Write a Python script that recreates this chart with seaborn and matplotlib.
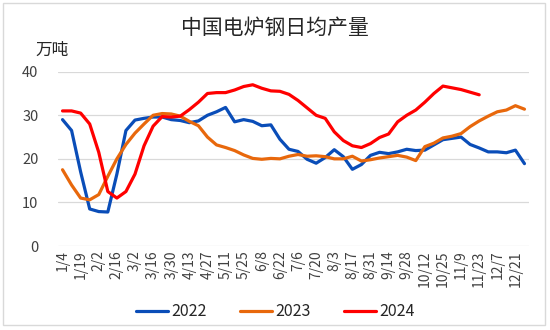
import matplotlib
matplotlib.use("Agg")
import matplotlib.pyplot as plt
from matplotlib.patches import Rectangle
import pandas as pd
import seaborn as sns

# Week labels (one per weekly observation)
weeks = ["1/4", "1/11", "1/19", "1/26", "2/2", "2/9", "2/16", "2/23", "3/2", "3/9",
         "3/16", "3/23", "3/30", "4/6", "4/13", "4/20", "4/27", "5/4", "5/11", "5/18",
         "5/25", "6/1", "6/8", "6/15", "6/22", "6/29", "7/6", "7/13", "7/20", "7/27",
         "8/3", "8/10", "8/17", "8/24", "8/31", "9/7", "9/14", "9/21", "9/28", "10/5",
         "10/12", "10/19", "10/25", "11/2", "11/9", "11/16", "11/23", "11/30", "12/7", "12/14",
         "12/21", "12/28"]

# Daily average EAF steel output, 10k tonnes
y2022 = [29.0, 26.5, 17.0, 8.5, 7.9, 7.8, 16.5, 26.5, 28.9, 29.3,
         29.6, 29.6, 29.0, 28.8, 28.3, 28.7, 30.0, 30.8, 31.8, 28.5,
         29.0, 28.6, 27.6, 27.8, 24.5, 22.2, 21.7, 19.9, 19.0, 20.3,
         22.1, 20.5, 17.6, 18.7, 20.8, 21.5, 21.2, 21.6, 22.2, 21.9,
         22.0, 23.2, 24.4, 24.7, 25.0, 23.3, 22.5, 21.6, 21.6, 21.4,
         22.0, 18.9]
y2023 = [17.5, 14.0, 11.0, 10.6, 11.8, 16.0, 20.0, 23.3, 25.9, 28.0,
         30.0, 30.4, 30.3, 29.8, 28.6, 27.6, 25.0, 23.2, 22.6, 21.9,
         20.9, 20.1, 19.9, 20.1, 20.0, 20.6, 21.0, 20.6, 20.7, 20.5,
         20.0, 20.0, 20.6, 19.5, 19.8, 20.2, 20.5, 20.8, 20.4, 19.6,
         22.8, 23.6, 24.8, 25.2, 25.8, 27.4, 28.7, 29.8, 30.8, 31.2,
         32.2, 31.4]
y2024 = [31.0, 31.0, 30.5, 28.0, 21.5, 12.5, 11.0, 12.5, 16.5, 23.0,
         27.5, 29.7, 29.6, 29.8, 31.3, 33.0, 35.0, 35.2, 35.2, 35.8,
         36.6, 37.0, 36.2, 35.6, 35.5, 34.8, 33.4, 31.7, 30.0, 29.3,
         26.2, 24.2, 23.0, 22.6, 23.5, 24.9, 25.7, 28.5, 30.0, 31.2,
         33.0, 35.0, 36.7, 36.3, 35.9, 35.3, 34.7]

years = ["2022", "2023", "2024"]
colors = ["#0A4DB8", "#E8680C", "#FF0000"]
series = [y2022, y2023, y2024]

frames = []
for yr, vals in zip(years, series):
    frames.append(pd.DataFrame({"周": range(len(vals)), "产量": vals, "年份": yr}))
df = pd.concat(frames, ignore_index=True)

sns.set_theme(style="white")
plt.rcParams["font.family"] = ["Noto Sans CJK SC", "DejaVu Sans"]

fig = plt.figure(figsize=(5.5, 3.3), dpi=100)
ax = fig.add_axes([58 / 550, 1 - 246 / 330, 471 / 550, 174.3 / 330])

sns.lineplot(data=df, x="周", y="产量", hue="年份", hue_order=years,
             palette=dict(zip(years, colors)), linewidth=2.3, ax=ax,
             sort=False, legend=False)
for line in ax.get_lines():
    line.set_solid_joinstyle("round")
    line.set_solid_capstyle("round")

ax.set_xlim(-0.5, len(weeks) - 0.5)
ax.set_ylim(0, 40)
ax.set_yticks([0, 10, 20, 30, 40])
ax.set_xticks(range(0, len(weeks), 2))
ax.set_xticklabels(weeks[::2], rotation=90, fontsize=10, color="#404040")
ax.tick_params(axis="y", labelsize=10.5, labelcolor="#404040", length=0, pad=14)
ax.tick_params(axis="x", length=0, pad=3)
ax.set_xlabel("")
ax.set_ylabel("")
ax.grid(axis="y", color="#d9d9d9", linewidth=0.9)
ax.grid(axis="x", visible=False)
for s in ax.spines.values():
    s.set_visible(False)

# Legend below the plot
handles = [plt.Line2D([], [], color=c, linewidth=2.3) for c in colors]
fig.legend(handles, years, loc="center", bbox_to_anchor=(0.5, 1 - 311.7 / 330),
           ncol=3, frameon=False, fontsize=11.5, handlelength=2.0,
           handletextpad=0.2, columnspacing=2.1, labelcolor="#262626")

fig.text(0.5, 1 - 27.5 / 330, "中国电炉钢日均产量", ha="center", va="center",
         fontsize=15, color="#262626")
fig.text(35 / 550, 1 - 50 / 330, "万吨", ha="left", va="center",
         fontsize=12, color="#262626")

fig.patches.append(Rectangle((3 / 550, 1 - 325 / 330), 542 / 550, 322 / 330,
                             transform=fig.transFigure, fill=False,
                             edgecolor="#d9d9d9", linewidth=1))

fig.savefig("out.png", dpi=100, facecolor="white")
